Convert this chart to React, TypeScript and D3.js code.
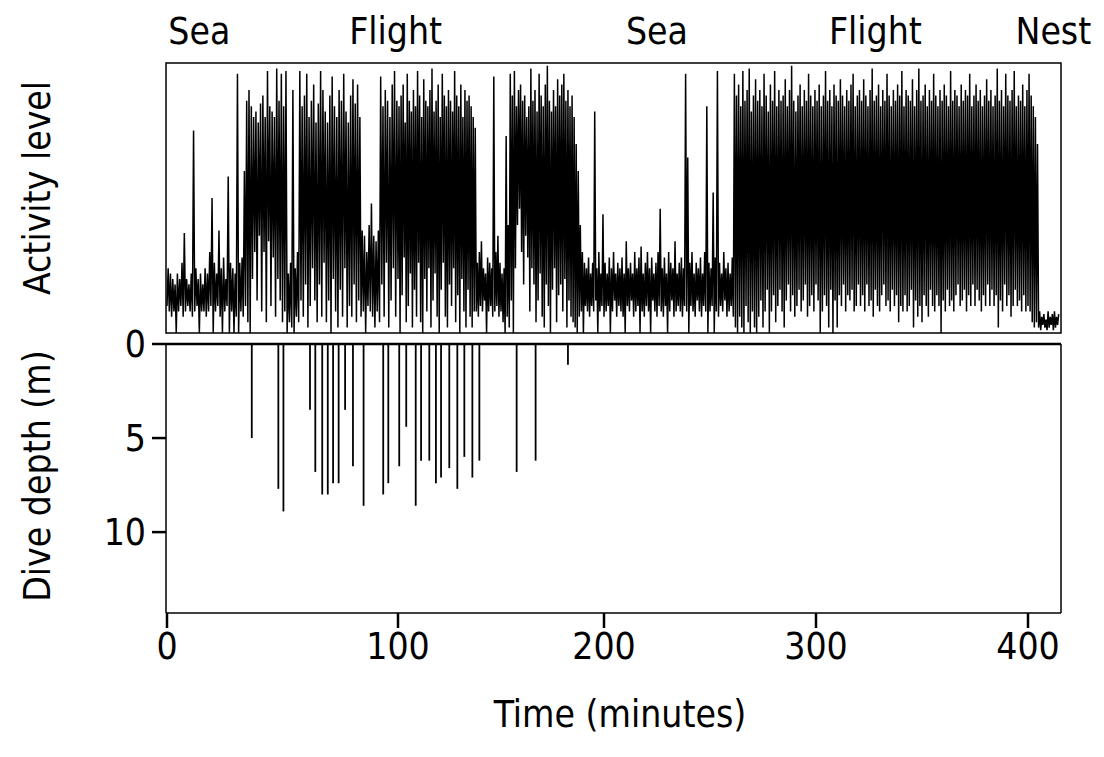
import React from 'react';
import * as d3 from 'd3';

// ---- annotations / ticks ----
const xTicks = [0, 100, 200, 300, 400];
const depthTicks = [0, 5, 10];
const phaseLabels = ['Sea', 'Flight', 'Sea', 'Flight', 'Nest'];
const phaseLabelTimes = [14, 99, 225, 328, 412];

// ---- activity trace: per-minute high / low (0-100), by segment ----
const segmentStarts = [0, 33, 52, 57, 84, 92, 138, 154, 188, 262, 405];

const sea1High = [24, 22, 20, 18, 22, 20, 26, 37, 20, 18, 22, 75, 24, 20, 22, 18, 24, 22, 30, 50, 26, 22, 38, 24, 28, 20, 58, 26, 24, 22, 96, 26, 28];
const sea1Low = [10, 8, 6, 8, 0, 8, 10, 6, 8, 10, 8, 6, 8, 10, 0, 8, 8, 6, 8, 10, 0, 8, 10, 6, 0, 8, 10, 0, 8, 0, 6, 0, 8];

const flight1aHigh = [60, 86, 90, 84, 80, 82, 78, 85, 88, 80, 97, 84, 82, 80, 98, 86, 96, 84, 97];
const flight1aLow = [6, 10, 4, 0, 20, 30, 12, 36, 8, 30, 4, 34, 10, 28, 6, 20, 12, 4, 8];

const sea1bHigh = [22, 26, 90, 24, 30];
const sea1bLow = [0, 4, 2, 0, 6];

const flight1bHigh = [97, 84, 88, 96, 80, 86, 92, 78, 85, 97, 90, 82, 78, 88, 95, 84, 80, 90, 86, 96, 82, 78, 88, 94, 85, 92, 80];
const flight1bLow = [4, 12, 6, 18, 2, 10, 24, 12, 4, 18, 6, 26, 4, 12, 0, 20, 8, 2, 16, 6, 24, 2, 10, 6, 18, 4, 12];

const sea1cHigh = [38, 36, 30, 40, 48, 36, 34, 38];
const sea1cLow = [6, 8, 0, 10, 8, 6, 2, 8];

const flight1cHigh = [95, 84, 90, 86, 80, 92, 97, 86, 84, 88, 92, 78, 96, 86, 82, 90, 84, 97, 88, 80, 94, 86, 84, 90, 98, 82, 86, 92, 80, 96, 88, 84, 90, 86, 82, 97, 88, 84, 92, 80, 90, 86, 88, 84, 80, 76];
const flight1cLow = [4, 18, 6, 26, 2, 12, 24, 6, 20, 0, 14, 28, 4, 10, 22, 2, 16, 6, 26, 4, 0, 20, 8, 24, 2, 12, 22, 6, 0, 16, 26, 6, 2, 18, 10, 24, 4, 14, 0, 20, 8, 2, 16, 6, 2, 8];

const sea1dHigh = [26, 30, 34, 24, 22, 28, 26, 24, 95, 30, 36, 26, 22, 24, 73, 40];
const sea1dLow = [8, 6, 10, 8, 12, 0, 8, 10, 6, 8, 10, 6, 8, 4, 0, 6];

const flight1dHigh = [96, 88, 97, 84, 90, 92, 86, 88, 80, 84, 98, 86, 90, 82, 96, 88, 84, 92, 99, 86, 82, 90, 84, 94, 88, 92, 96, 86, 90, 84, 88, 80, 70, 60];
const flight1dLow = [2, 12, 0, 24, 40, 46, 30, 18, 36, 28, 8, 24, 18, 4, 12, 22, 6, 2, 18, 10, 0, 16, 24, 4, 14, 18, 8, 20, 2, 12, 6, 4, 2, 0];

const sea2High = [40, 30, 26, 24, 28, 22, 26, 82, 24, 30, 22, 44, 26, 22, 28, 24, 30, 22, 26, 24, 28, 22, 34, 24, 26, 22, 30, 24, 28, 32, 22, 26, 30, 24, 28, 22, 26, 30, 46, 24, 28, 22, 30, 26, 24, 34, 22, 26, 28, 24, 96, 65, 26, 30, 22, 26, 24, 28, 22, 30, 84, 26, 24, 52, 28, 97, 26, 22, 30, 24, 26, 22, 28, 96];
const sea2Low = [6, 8, 0, 10, 8, 6, 10, 8, 12, 0, 8, 10, 6, 8, 10, 0, 8, 12, 6, 10, 8, 6, 0, 10, 8, 12, 6, 8, 10, 0, 8, 6, 10, 8, 0, 12, 8, 6, 10, 8, 6, 10, 0, 8, 12, 6, 8, 10, 8, 6, 10, 8, 0, 10, 8, 6, 12, 8, 6, 10, 8, 0, 8, 10, 0, 8, 6, 10, 8, 12, 6, 8, 10, 6];

const flight2High = [
  88, 92, 84, 97, 86, 90, 98, 82, 88, 94,
  86, 90, 84, 96, 88, 82, 92, 86, 97, 84,
  90, 86, 88, 94, 84, 90, 99, 86, 82, 88,
  92, 84, 90, 86, 96, 88, 84, 90, 86, 92,
  84, 88, 97, 86, 90, 84, 92, 88, 86, 94,
  88, 84, 90, 86, 92, 96, 84, 88, 90, 86,
  94, 88, 84, 90, 98, 86, 88, 92, 84, 90,
  86, 96, 88, 84, 90, 86, 92, 88, 97, 84,
  90, 88, 86, 94, 84, 90, 98, 86, 88, 92,
  84, 90, 86, 96, 88, 84, 90, 86, 92, 88,
  84, 97, 86, 90, 88, 84, 92, 86, 90, 88,
  96, 84, 88, 92, 86, 90, 84, 88, 94, 86,
  90, 84, 88, 98, 86, 90, 84, 96, 88, 86,
  90, 97, 84, 88, 86, 92, 84, 90, 96, 88,
  84, 80, 70,
];
const flight2Low = [
  2, 0, 6, 2, 0, 10, 4, 0, 8, 2,
  0, 6, 12, 2, 8, 16, 0, 8, 14, 4,
  10, 16, 8, 2, 12, 18, 8, 14, 6, 10,
  16, 8, 12, 18, 6, 10, 14, 8, 18, 12,
  0, 8, 14, 10, 2, 16, 0, 12, 2, 14,
  10, 18, 8, 14, 12, 16, 8, 10, 18, 10,
  14, 8, 18, 10, 12, 6, 16, 10, 8, 14,
  18, 10, 12, 8, 16, 10, 14, 4, 10, 8,
  14, 8, 10, 16, 2, 12, 6, 10, 4, 14,
  10, 6, 16, 10, 8, 14, 10, 0, 12, 8,
  16, 10, 12, 8, 14, 18, 10, 12, 16, 8,
  14, 10, 18, 10, 16, 12, 8, 14, 10, 18,
  10, 16, 10, 14, 2, 12, 8, 18, 10, 14,
  6, 10, 16, 10, 12, 8, 14, 8, 10, 8,
  4, 2, 4,
];

const nestHigh = [8, 6, 7, 5, 8, 6, 7, 8, 6, 7];
const nestLow = [2, 1, 3, 2, 1, 2, 3, 1, 2, 3];

const highSegments = [sea1High, flight1aHigh, sea1bHigh, flight1bHigh, sea1cHigh, flight1cHigh, sea1dHigh, flight1dHigh, sea2High, flight2High, nestHigh];
const lowSegments = [sea1Low, flight1aLow, sea1bLow, flight1bLow, sea1cLow, flight1cLow, sea1dLow, flight1dLow, sea2Low, flight2Low, nestLow];

// ---- dives: time (min) and max depth (m) ----
const diveTimes = [36.7, 48.2, 50.4, 61.9, 64.2, 67.2, 69.6, 71.9, 74.3, 77.1, 80.5, 85.1, 93.6, 95.8, 100.6, 104.0, 108.6, 111.2, 115.2, 118.4, 120.9, 124.9, 128.8, 132.2, 136.1, 139.5, 157.6, 166.8, 182.5];
const diveDepths = [5.0, 7.7, 8.9, 3.5, 6.8, 8.0, 8.0, 7.4, 7.4, 3.5, 6.5, 8.6, 8.0, 7.4, 6.5, 4.4, 8.6, 6.2, 6.2, 7.4, 7.1, 6.6, 7.7, 6.0, 7.1, 6.2, 6.8, 6.2, 1.1];

const FONT = "'DejaVu Sans Condensed', 'DejaVu Sans', sans-serif";
const FS = 37;

export default function App() {
  const W = 1104, H = 757;
  const left = 166, right = 1061;
  const topY0 = 63, topY1 = 333;
  const botY0 = 344, botY1 = 613;

  const x = d3.scaleLinear().domain([0, 100, 200, 300, 400, 415.6]).range([167, 398, 604, 816, 1028, right]);
  const yAct = d3.scaleLinear().domain([0, 100]).range([topY1, topY0]);
  const yDepth = d3.scaleLinear().domain([0, 14.3]).range([botY0, botY1]);

  const pts: [number, number][] = [];
  highSegments.forEach((seg, si) => {
    const start = segmentStarts[si];
    seg.forEach((hv, i) => {
      const t = start + i;
      pts.push([t, lowSegments[si][i]]);
      pts.push([t + 0.5, hv]);
    });
  });
  const line = d3.line<[number, number]>().x(d => x(d[0])).y(d => yAct(d[1]));
  const actPath = line(pts) || '';

  return (
    <svg width={W} height={H} style={{ position: 'absolute', left: 0, top: 0, background: '#fff' }} fontFamily={FONT}>
      <rect x={0} y={0} width={W} height={H} fill="#fff" />
      {/* phase labels */}
      {phaseLabels.map((p, i) => (
        <text key={i} x={x(phaseLabelTimes[i])} y={44} fontSize={FS} textAnchor="middle" fill="#000">{p}</text>
      ))}
      {/* top panel */}
      <clipPath id="clipTop"><rect x={left} y={topY0} width={right - left} height={topY1 - topY0} /></clipPath>
      <path d={actPath} fill="none" stroke="#000" strokeWidth={1.5} clipPath="url(#clipTop)" />
      <rect x={left} y={topY0} width={right - left} height={topY1 - topY0} fill="none" stroke="#000" strokeWidth={1.5} />
      <text transform={`translate(50,${188}) rotate(-90)`} fontSize={FS} textAnchor="middle" fill="#000">Activity level</text>

      {/* bottom panel */}
      {diveTimes.map((t, i) => (
        <line key={i} x1={x(t)} x2={x(t)} y1={yDepth(0)} y2={yDepth(diveDepths[i])} stroke="#000" strokeWidth={1.8} />
      ))}
      <line x1={left} x2={right} y1={botY0} y2={botY0} stroke="#000" strokeWidth={2.5} />
      <line x1={left} x2={left} y1={botY0} y2={botY1} stroke="#000" strokeWidth={1.5} />
      <line x1={right} x2={right} y1={botY0} y2={botY1} stroke="#000" strokeWidth={1.5} />
      <line x1={left} x2={right} y1={botY1} y2={botY1} stroke="#000" strokeWidth={1.5} />
      {depthTicks.map(d => (
        <g key={d}>
          <line x1={152} x2={left} y1={yDepth(d)} y2={yDepth(d)} stroke="#000" strokeWidth={2.5} />
          <text x={146} y={yDepth(d) + 13} fontSize={FS} textAnchor="end" fill="#000">{d}</text>
        </g>
      ))}
      <text transform={`translate(50,${476}) rotate(-90)`} fontSize={FS} textAnchor="middle" fill="#000">Dive depth (m)</text>

      {/* x axis */}
      {xTicks.map(t => (
        <g key={t}>
          <line x1={x(t)} x2={x(t)} y1={botY1} y2={botY1 + 15} stroke="#000" strokeWidth={2.5} />
          <text x={x(t)} y={659} fontSize={FS} textAnchor="middle" fill="#000">{t}</text>
        </g>
      ))}
      <text x={620} y={727} fontSize={FS} textAnchor="middle" fill="#000">Time (minutes)</text>
    </svg>
  );
}
